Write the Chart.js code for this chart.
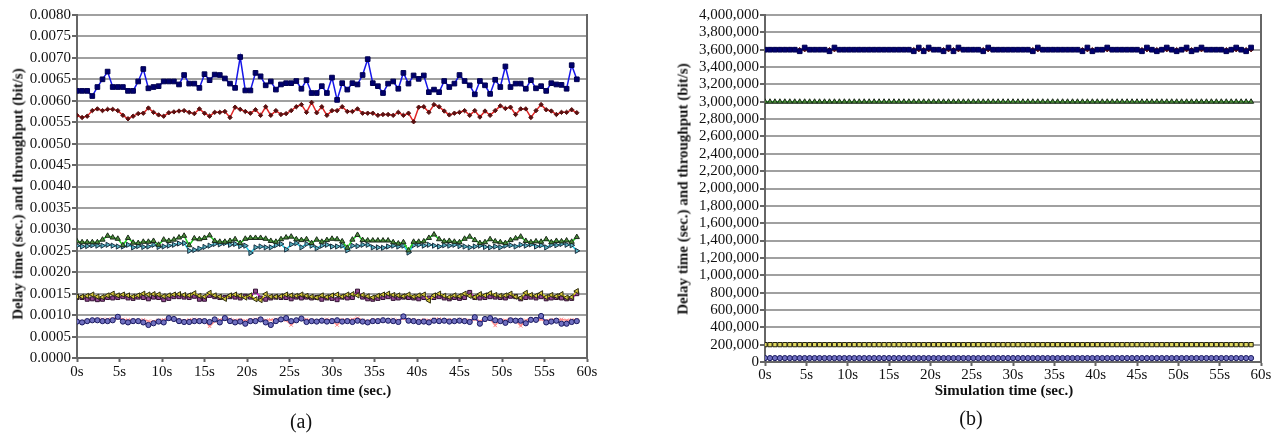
<!DOCTYPE html>
<html>
<head>
<meta charset="utf-8">
<script src="https://cdn.jsdelivr.net/npm/chart.js@4.4.1/dist/chart.umd.min.js"></script>
<style>
  html, body { margin: 0; padding: 0; background: #fff; }
  body { width: 1280px; height: 435px; position: relative; overflow: hidden; font-family: 'Liberation Serif', serif; color: #111; }
  .wrap { position: absolute; top: 0; width: 640px; height: 435px; }
  #wrapA { left: 0; }
  #wrapB { left: 640px; }
  .txt { position: absolute; white-space: nowrap; transform: translate(-50%, -50%); }
  .cap { font-size: 20px; }
  .ttl { font-size: 15px; font-weight: bold; }
  .rot { transform: translate(-50%, -50%) rotate(-90deg); }
</style>
</head>
<body>
<div class="wrap" id="wrapA"><canvas id="chartA" width="640" height="435"></canvas></div>
<div class="wrap" id="wrapB"><canvas id="chartB" width="640" height="435"></canvas></div>
<div class="txt ttl rot" style="left:18px; top:194px;">Delay time (sec.) and throughput (bit/s)</div>
<div class="txt ttl" style="left:322px; top:390px;">Simulation time (sec.)</div>
<div class="txt ttl rot" style="left:683px; top:189px;">Delay time (sec.) and throughput (bit/s)</div>
<div class="txt ttl" style="left:1004px; top:390px;">Simulation time (sec.)</div>
<div class="txt cap" style="left:301px; top:421px;">(a)</div>
<div class="txt cap" style="left:971px; top:418px;">(b)</div>
<script>
// sample times (s), one every 0.6 s
const timeS = [0, 0.6, 1.2, 1.8, 2.4, 3, 3.6, 4.2, 4.8, 5.4, 6, 6.6, 7.2, 7.8, 8.4, 9, 9.6, 10.2, 10.8, 11.4,
  12, 12.6, 13.2, 13.8, 14.4, 15, 15.6, 16.2, 16.8, 17.4, 18, 18.6, 19.2, 19.8, 20.4, 21, 21.6, 22.2, 22.8, 23.4,
  24, 24.6, 25.2, 25.8, 26.4, 27, 27.6, 28.2, 28.8, 29.4, 30, 30.6, 31.2, 31.8, 32.4, 33, 33.6, 34.2, 34.8, 35.4,
  36, 36.6, 37.2, 37.8, 38.4, 39, 39.6, 40.2, 40.8, 41.4, 42, 42.6, 43.2, 43.8, 44.4, 45, 45.6, 46.2, 46.8, 47.4,
  48, 48.6, 49.2, 49.8, 50.4, 51, 51.6, 52.2, 52.8, 53.4, 54, 54.6, 55.2, 55.8, 56.4, 57, 57.6, 58.2, 58.8];

// ---- chart (a) ----
const aBlue = [0.00623, 0.00623, 0.00623, 0.00611, 0.00632, 0.00650, 0.00668, 0.00632, 0.00632, 0.00632,
  0.00623, 0.00623, 0.00645, 0.00674, 0.00629, 0.00632, 0.00634, 0.00645, 0.00645, 0.00645,
  0.00638, 0.00660, 0.00640, 0.00640, 0.00630, 0.00662, 0.00648, 0.00661, 0.00660, 0.00652,
  0.00640, 0.00630, 0.00702, 0.00624, 0.00624, 0.00665, 0.00657, 0.00636, 0.00645, 0.00626,
  0.00638, 0.00641, 0.00641, 0.00646, 0.00628, 0.00648, 0.00618, 0.00618, 0.00634, 0.00618,
  0.00654, 0.00602, 0.00641, 0.00626, 0.00641, 0.00638, 0.00660, 0.00697, 0.00641, 0.00634,
  0.00618, 0.00640, 0.00645, 0.00628, 0.00665, 0.00640, 0.00659, 0.00651, 0.00659, 0.00620,
  0.00626, 0.00620, 0.00646, 0.00632, 0.00640, 0.00660, 0.00646, 0.00636, 0.00615, 0.00646,
  0.00636, 0.00616, 0.00649, 0.00632, 0.00680, 0.00632, 0.00640, 0.00640, 0.00628, 0.00648,
  0.00629, 0.00634, 0.00623, 0.00641, 0.00638, 0.00637, 0.00628, 0.00683, 0.00650];
const aRed = [0.00566, 0.00561, 0.00564, 0.00577, 0.00581, 0.00577, 0.00580, 0.00580, 0.00577, 0.00566,
  0.00558, 0.00564, 0.00570, 0.00571, 0.00583, 0.00573, 0.00567, 0.00564, 0.00572, 0.00574,
  0.00576, 0.00577, 0.00573, 0.00570, 0.00581, 0.00571, 0.00564, 0.00573, 0.00573, 0.00575,
  0.00561, 0.00585, 0.00580, 0.00575, 0.00571, 0.00579, 0.00566, 0.00586, 0.00566, 0.00577,
  0.00568, 0.00570, 0.00577, 0.00586, 0.00591, 0.00573, 0.00596, 0.00572, 0.00586, 0.00566,
  0.00577, 0.00577, 0.00586, 0.00575, 0.00575, 0.00581, 0.00571, 0.00571, 0.00571, 0.00566,
  0.00568, 0.00568, 0.00566, 0.00573, 0.00566, 0.00571, 0.00551, 0.00585, 0.00586, 0.00573,
  0.00591, 0.00586, 0.00576, 0.00567, 0.00571, 0.00573, 0.00577, 0.00566, 0.00577, 0.00562,
  0.00576, 0.00566, 0.00577, 0.00588, 0.00582, 0.00585, 0.00568, 0.00581, 0.00581, 0.00561,
  0.00577, 0.00591, 0.00579, 0.00576, 0.00568, 0.00573, 0.00573, 0.00579, 0.00572];
const aGreen = [0.00272, 0.00270, 0.00270, 0.00270, 0.00270, 0.00276, 0.00285, 0.00281, 0.00278, 0.00263,
  0.00280, 0.00269, 0.00268, 0.00271, 0.00271, 0.00273, 0.00264, 0.00276, 0.00273, 0.00276,
  0.00281, 0.00285, 0.00263, 0.00279, 0.00277, 0.00280, 0.00286, 0.00273, 0.00271, 0.00271,
  0.00273, 0.00277, 0.00268, 0.00278, 0.00280, 0.00280, 0.00280, 0.00278, 0.00273, 0.00271,
  0.00277, 0.00281, 0.00283, 0.00277, 0.00275, 0.00277, 0.00268, 0.00276, 0.00271, 0.00275,
  0.00278, 0.00277, 0.00272, 0.00257, 0.00276, 0.00287, 0.00275, 0.00274, 0.00274, 0.00274,
  0.00274, 0.00274, 0.00270, 0.00267, 0.00270, 0.00251, 0.00271, 0.00271, 0.00272, 0.00280,
  0.00288, 0.00277, 0.00272, 0.00273, 0.00271, 0.00270, 0.00278, 0.00283, 0.00275, 0.00268,
  0.00270, 0.00277, 0.00272, 0.00270, 0.00268, 0.00275, 0.00279, 0.00283, 0.00273, 0.00270,
  0.00272, 0.00271, 0.00277, 0.00270, 0.00273, 0.00272, 0.00274, 0.00271, 0.00282];
const aCyan = [0.00262, 0.00260, 0.00261, 0.00263, 0.00262, 0.00262, 0.00264, 0.00262, 0.00260, 0.00260,
  0.00264, 0.00258, 0.00261, 0.00259, 0.00260, 0.00264, 0.00259, 0.00260, 0.00262, 0.00264,
  0.00267, 0.00268, 0.00250, 0.00252, 0.00255, 0.00259, 0.00262, 0.00266, 0.00265, 0.00268,
  0.00264, 0.00266, 0.00261, 0.00262, 0.00245, 0.00258, 0.00260, 0.00258, 0.00258, 0.00263,
  0.00266, 0.00253, 0.00265, 0.00268, 0.00258, 0.00266, 0.00262, 0.00256, 0.00262, 0.00264,
  0.00260, 0.00260, 0.00262, 0.00251, 0.00262, 0.00261, 0.00264, 0.00264, 0.00258, 0.00258,
  0.00257, 0.00260, 0.00262, 0.00260, 0.00262, 0.00246, 0.00263, 0.00264, 0.00262, 0.00264,
  0.00262, 0.00260, 0.00263, 0.00262, 0.00264, 0.00261, 0.00260, 0.00258, 0.00260, 0.00262,
  0.00259, 0.00258, 0.00260, 0.00258, 0.00262, 0.00263, 0.00260, 0.00264, 0.00262, 0.00265,
  0.00260, 0.00263, 0.00258, 0.00264, 0.00263, 0.00266, 0.00264, 0.00263, 0.00250];
const aYellow = [0.00143, 0.00143, 0.00145, 0.00148, 0.00143, 0.00142, 0.00146, 0.00150, 0.00146, 0.00148,
  0.00146, 0.00143, 0.00146, 0.00150, 0.00148, 0.00149, 0.00148, 0.00144, 0.00146, 0.00148,
  0.00149, 0.00147, 0.00146, 0.00151, 0.00145, 0.00143, 0.00152, 0.00146, 0.00143, 0.00138,
  0.00146, 0.00148, 0.00145, 0.00141, 0.00146, 0.00137, 0.00135, 0.00149, 0.00143, 0.00143,
  0.00144, 0.00148, 0.00146, 0.00145, 0.00148, 0.00145, 0.00143, 0.00141, 0.00146, 0.00142,
  0.00146, 0.00148, 0.00143, 0.00148, 0.00149, 0.00146, 0.00147, 0.00144, 0.00141, 0.00145,
  0.00148, 0.00150, 0.00147, 0.00146, 0.00144, 0.00148, 0.00143, 0.00146, 0.00148, 0.00134,
  0.00146, 0.00150, 0.00145, 0.00142, 0.00146, 0.00144, 0.00150, 0.00145, 0.00142, 0.00149,
  0.00146, 0.00151, 0.00147, 0.00145, 0.00146, 0.00150, 0.00143, 0.00140, 0.00152, 0.00147,
  0.00145, 0.00151, 0.00142, 0.00147, 0.00144, 0.00149, 0.00141, 0.00142, 0.00156];
const aMagenta = [0.00141, 0.00141, 0.00137, 0.00138, 0.00136, 0.00137, 0.00141, 0.00140, 0.00141, 0.00143,
  0.00140, 0.00139, 0.00142, 0.00141, 0.00138, 0.00142, 0.00141, 0.00136, 0.00139, 0.00143,
  0.00143, 0.00142, 0.00141, 0.00144, 0.00137, 0.00137, 0.00146, 0.00143, 0.00141, 0.00141,
  0.00143, 0.00142, 0.00140, 0.00144, 0.00142, 0.00156, 0.00140, 0.00137, 0.00140, 0.00142,
  0.00141, 0.00141, 0.00138, 0.00142, 0.00140, 0.00142, 0.00140, 0.00141, 0.00137, 0.00140,
  0.00139, 0.00136, 0.00142, 0.00140, 0.00141, 0.00156, 0.00142, 0.00138, 0.00137, 0.00139,
  0.00141, 0.00143, 0.00139, 0.00140, 0.00142, 0.00141, 0.00140, 0.00138, 0.00141, 0.00140,
  0.00141, 0.00143, 0.00140, 0.00138, 0.00141, 0.00139, 0.00141, 0.00153, 0.00141, 0.00140,
  0.00141, 0.00143, 0.00142, 0.00141, 0.00140, 0.00144, 0.00143, 0.00138, 0.00141, 0.00142,
  0.00140, 0.00143, 0.00138, 0.00140, 0.00141, 0.00140, 0.00138, 0.00139, 0.00150];
const aPink = [0.00086, 0.00085, 0.00087, 0.00089, 0.00090, 0.00090, 0.00090, 0.00091, 0.00093, 0.00090,
  0.00089, 0.00088, 0.00087, 0.00089, 0.00086, 0.00085, 0.00088, 0.00089, 0.00092, 0.00090,
  0.00088, 0.00087, 0.00089, 0.00090, 0.00089, 0.00088, 0.00074, 0.00086, 0.00089, 0.00091,
  0.00090, 0.00088, 0.00089, 0.00087, 0.00089, 0.00090, 0.00091, 0.00088, 0.00089, 0.00090,
  0.00089, 0.00088, 0.00077, 0.00088, 0.00091, 0.00090, 0.00088, 0.00087, 0.00089, 0.00090,
  0.00088, 0.00077, 0.00089, 0.00088, 0.00090, 0.00093, 0.00088, 0.00086, 0.00089, 0.00088,
  0.00089, 0.00087, 0.00090, 0.00088, 0.00092, 0.00088, 0.00089, 0.00087, 0.00089, 0.00088,
  0.00090, 0.00091, 0.00088, 0.00089, 0.00087, 0.00090, 0.00089, 0.00088, 0.00090, 0.00086,
  0.00089, 0.00091, 0.00076, 0.00089, 0.00088, 0.00090, 0.00088, 0.00075, 0.00088, 0.00091,
  0.00089, 0.00090, 0.00087, 0.00089, 0.00089, 0.00090, 0.00088, 0.00089, 0.00089];
const aNavy = [0.00085, 0.00083, 0.00086, 0.00088, 0.00088, 0.00086, 0.00086, 0.00088, 0.00096, 0.00085,
  0.00083, 0.00086, 0.00086, 0.00083, 0.00077, 0.00081, 0.00085, 0.00083, 0.00093, 0.00091,
  0.00086, 0.00084, 0.00084, 0.00086, 0.00086, 0.00086, 0.00084, 0.00090, 0.00083, 0.00093,
  0.00086, 0.00083, 0.00085, 0.00080, 0.00086, 0.00086, 0.00090, 0.00083, 0.00077, 0.00086,
  0.00090, 0.00093, 0.00086, 0.00088, 0.00092, 0.00084, 0.00086, 0.00085, 0.00087, 0.00085,
  0.00086, 0.00088, 0.00085, 0.00086, 0.00084, 0.00087, 0.00085, 0.00083, 0.00086, 0.00086,
  0.00088, 0.00087, 0.00086, 0.00084, 0.00097, 0.00087, 0.00086, 0.00084, 0.00085, 0.00083,
  0.00087, 0.00086, 0.00087, 0.00085, 0.00086, 0.00087, 0.00086, 0.00084, 0.00095, 0.00080,
  0.00091, 0.00093, 0.00088, 0.00086, 0.00082, 0.00088, 0.00087, 0.00087, 0.00081, 0.00089,
  0.00089, 0.00098, 0.00083, 0.00085, 0.00087, 0.00080, 0.00080, 0.00084, 0.00086];

// ---- chart (b) ----
const bBlue = [3600000, 3600000, 3600000, 3600000, 3600000, 3600000, 3600000, 3582000, 3625000, 3600000,
  3600000, 3600000, 3600000, 3582000, 3625000, 3600000, 3600000, 3600000, 3600000, 3600000,
  3600000, 3600000, 3600000, 3600000, 3600000, 3600000, 3600000, 3600000, 3600000, 3600000,
  3582000, 3625000, 3582000, 3625000, 3600000, 3600000, 3582000, 3625000, 3582000, 3625000,
  3600000, 3600000, 3600000, 3600000, 3582000, 3625000, 3600000, 3600000, 3600000, 3600000,
  3600000, 3600000, 3600000, 3600000, 3582000, 3625000, 3600000, 3600000, 3600000, 3600000,
  3600000, 3600000, 3600000, 3600000, 3582000, 3625000, 3582000, 3600000, 3600000, 3625000,
  3600000, 3600000, 3600000, 3600000, 3600000, 3600000, 3582000, 3625000, 3600000, 3582000,
  3600000, 3625000, 3600000, 3582000, 3600000, 3625000, 3582000, 3600000, 3625000, 3600000,
  3600000, 3600000, 3600000, 3582000, 3600000, 3625000, 3600000, 3582000, 3625000];
const bRed = [3600000, 3600000, 3600000, 3600000, 3600000, 3600000, 3600000, 3600000, 3600000, 3600000,
  3600000, 3600000, 3600000, 3600000, 3600000, 3600000, 3600000, 3600000, 3600000, 3600000,
  3600000, 3600000, 3600000, 3600000, 3600000, 3600000, 3600000, 3600000, 3600000, 3600000,
  3600000, 3600000, 3600000, 3600000, 3600000, 3600000, 3600000, 3600000, 3600000, 3600000,
  3600000, 3600000, 3600000, 3600000, 3600000, 3600000, 3600000, 3600000, 3600000, 3600000,
  3600000, 3600000, 3600000, 3600000, 3600000, 3600000, 3600000, 3600000, 3600000, 3600000,
  3600000, 3600000, 3600000, 3600000, 3600000, 3600000, 3600000, 3600000, 3600000, 3600000,
  3600000, 3600000, 3600000, 3600000, 3600000, 3600000, 3600000, 3600000, 3600000, 3600000,
  3600000, 3600000, 3600000, 3600000, 3600000, 3600000, 3600000, 3600000, 3600000, 3600000,
  3600000, 3600000, 3600000, 3600000, 3600000, 3600000, 3600000, 3600000, 3600000];
const bGreen = [3000000, 3000000, 3000000, 3000000, 3000000, 3000000, 3000000, 3000000, 3000000, 3000000,
  3000000, 3000000, 3000000, 3000000, 3000000, 3000000, 3000000, 3000000, 3000000, 3000000,
  3000000, 3000000, 3000000, 3000000, 3000000, 3000000, 3000000, 3000000, 3000000, 3000000,
  3000000, 3000000, 3000000, 3000000, 3000000, 3000000, 3000000, 3000000, 3000000, 3000000,
  3000000, 3000000, 3000000, 3000000, 3000000, 3000000, 3000000, 3000000, 3000000, 3000000,
  3000000, 3000000, 3000000, 3000000, 3000000, 3000000, 3000000, 3000000, 3000000, 3000000,
  3000000, 3000000, 3000000, 3000000, 3000000, 3000000, 3000000, 3000000, 3000000, 3000000,
  3000000, 3000000, 3000000, 3000000, 3000000, 3000000, 3000000, 3000000, 3000000, 3000000,
  3000000, 3000000, 3000000, 3000000, 3000000, 3000000, 3000000, 3000000, 3000000, 3000000,
  3000000, 3000000, 3000000, 3000000, 3000000, 3000000, 3000000, 3000000, 3000000];
const bYellow = [200000, 200000, 200000, 200000, 200000, 200000, 200000, 200000, 200000, 200000,
  200000, 200000, 200000, 200000, 200000, 200000, 200000, 200000, 200000, 200000,
  200000, 200000, 200000, 200000, 200000, 200000, 200000, 200000, 200000, 200000,
  200000, 200000, 200000, 200000, 200000, 200000, 200000, 200000, 200000, 200000,
  200000, 200000, 200000, 200000, 200000, 200000, 200000, 200000, 200000, 200000,
  200000, 200000, 200000, 200000, 200000, 200000, 200000, 200000, 200000, 200000,
  200000, 200000, 200000, 200000, 200000, 200000, 200000, 200000, 200000, 200000,
  200000, 200000, 200000, 200000, 200000, 200000, 200000, 200000, 200000, 200000,
  200000, 200000, 200000, 200000, 200000, 200000, 200000, 200000, 200000, 200000,
  200000, 200000, 200000, 200000, 200000, 200000, 200000, 200000, 200000];
const bNavy = [45000, 45000, 45000, 45000, 45000, 45000, 45000, 45000, 45000, 45000,
  45000, 45000, 45000, 45000, 45000, 45000, 45000, 45000, 45000, 45000,
  45000, 45000, 45000, 45000, 45000, 45000, 45000, 45000, 45000, 45000,
  45000, 45000, 45000, 45000, 45000, 45000, 45000, 45000, 45000, 45000,
  45000, 45000, 45000, 45000, 45000, 45000, 45000, 45000, 45000, 45000,
  45000, 45000, 45000, 45000, 45000, 45000, 45000, 45000, 45000, 45000,
  45000, 45000, 45000, 45000, 45000, 45000, 45000, 45000, 45000, 45000,
  45000, 45000, 45000, 45000, 45000, 45000, 45000, 45000, 45000, 45000,
  45000, 45000, 45000, 45000, 45000, 45000, 45000, 45000, 45000, 45000,
  45000, 45000, 45000, 45000, 45000, 45000, 45000, 45000, 45000];

Chart.defaults.font.family = "'Liberation Serif', 'Times New Roman', serif";
Chart.defaults.font.size = 15;
Chart.defaults.color = '#111';

// line/marker looks, shared by both panels
const looks = {
  blue:    { borderColor: '#1616e8', pointStyle: 'rect', pointRadius: 3.3, pointBackgroundColor: '#00006e', pointBorderColor: '#000050' },
  red:     { borderColor: '#e02424', pointStyle: 'rectRot', pointRadius: 2.2, pointBackgroundColor: '#5a1010', pointBorderColor: '#5a1010' },
  green:   { borderColor: '#22d022', pointStyle: 'triangle', pointRadius: 3, pointBackgroundColor: '#4d8a3a', pointBorderColor: '#1a2a1a' },
  cyan:    { borderColor: '#22c8e6', pointStyle: 'triangle', pointRotation: 90, pointRadius: 3, pointBackgroundColor: '#5ab0c0', pointBorderColor: '#1a3040' },
  yellow:  { borderColor: '#f0e01e', pointStyle: 'triangle', pointRotation: -90, pointRadius: 3, pointBackgroundColor: '#d8c840', pointBorderColor: '#2a2a10' },
  yellowSq:{ borderColor: '#f0e01e', pointStyle: 'rect', pointRadius: 3, pointBackgroundColor: '#e0d860', pointBorderColor: '#222210' },
  magenta: { borderColor: '#e41ee4', pointStyle: 'rect', pointRadius: 2.8, pointBackgroundColor: '#904890', pointBorderColor: '#301030' },
  navy:    { borderColor: '#3434a8', pointStyle: 'circle', pointRadius: 2.6, pointBackgroundColor: '#7070c0', pointBorderColor: '#1a1a60' },
  pink:    { borderColor: '#ff8a8a', pointStyle: 'crossRot', pointRadius: 2.5, pointBackgroundColor: '#ff8a8a', pointBorderColor: '#ff8a8a' }
};

function series(values, look) {
  return Object.assign({
    data: values.map((v, i) => ({ x: timeS[i], y: v })),
    borderWidth: 1.5,
    pointBorderWidth: 1,
    tension: 0,
    fill: false
  }, looks[look]);
}

const rightEdge = {
  id: 'rightEdge',
  beforeDatasetsDraw(chart) {
    const { ctx, chartArea: a } = chart;
    ctx.save();
    ctx.strokeStyle = '#666';
    ctx.lineWidth = 2;
    ctx.beginPath();
    ctx.moveTo(a.right, a.top - 1);
    ctx.lineTo(a.right, a.bottom);
    ctx.stroke();
    ctx.restore();
  }
};

function makeChart(id, datasets, opt) {
  return new Chart(document.getElementById(id), {
    type: 'line',
    data: { datasets: datasets },
    options: {
      responsive: false,
      animation: false,
      layout: { padding: { left: 0, right: opt.padRight, top: 15, bottom: 35 } },
      plugins: { legend: { display: false }, tooltip: { enabled: false } },
      scales: {
        x: {
          type: 'linear', min: 0, max: 60,
          ticks: { stepSize: 5, autoSkip: false, maxRotation: 0, padding: opt.xPad, callback: v => v + 's' },
          grid: { drawOnChartArea: false, tickLength: 4, tickColor: '#666', tickWidth: 2 },
          border: { color: '#666', width: 2 },
          afterFit: s => { s.height = opt.xHeight; }
        },
        y: {
          min: 0, max: opt.yMax,
          ticks: { stepSize: opt.yStep, autoSkip: false, padding: 1, callback: opt.fmt },
          grid: { color: '#a0a0a0', lineWidth: 2, tickLength: 5, tickColor: '#666', tickWidth: 2 },
          border: { color: '#666', width: 2 },
          afterFit: s => { s.width = opt.yWidth; }
        }
      }
    },
    plugins: [rightEdge]
  });
}

makeChart('chartA', [
  series(aBlue, 'blue'), series(aRed, 'red'), series(aGreen, 'green'), series(aCyan, 'cyan'),
  series(aYellow, 'yellow'), series(aMagenta, 'magenta'), series(aNavy, 'navy'), series(aPink, 'pink')
], {
  padRight: 53, yWidth: 77, xHeight: 42, xPad: 1,
  yMax: 0.008, yStep: 0.0005, fmt: v => v.toFixed(4)
});

makeChart('chartB', [
  series(bBlue, 'blue'), series(bRed, 'red'), series(bGreen, 'green'),
  series(bYellow, 'yellowSq'), series(bNavy, 'navy')
], {
  padRight: 19, yWidth: 125, xHeight: 38, xPad: 0,
  yMax: 4000000, yStep: 200000, fmt: v => v.toLocaleString('en-US')
});
</script>
</body>
</html>
